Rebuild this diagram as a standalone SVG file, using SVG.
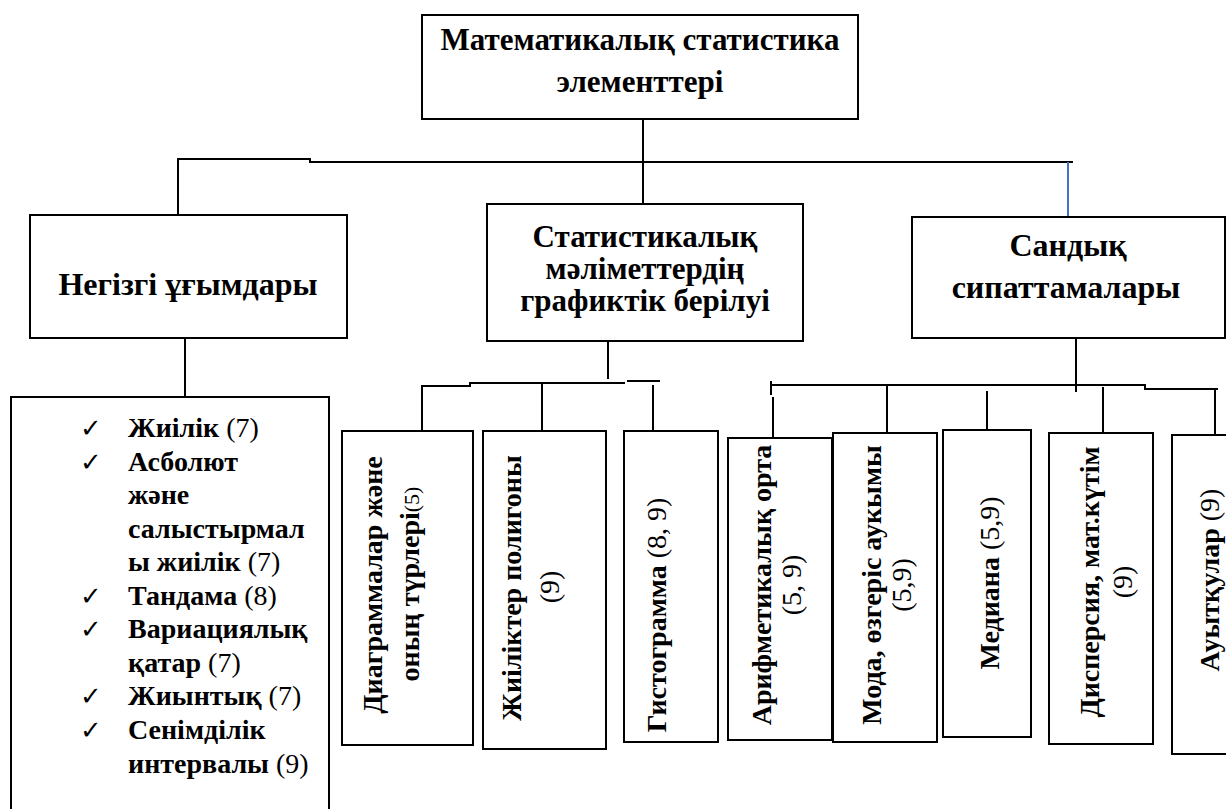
<svg xmlns="http://www.w3.org/2000/svg" width="1226" height="809" viewBox="0 0 1226 809">
<style>
.box{fill:#fff;stroke:#000;stroke-width:2}
.ln{fill:none;stroke:#000;stroke-width:2}
.blue{fill:none;stroke:#4472c4;stroke-width:2}
.t{font-family:"Liberation Serif","Times New Roman",serif;font-weight:bold;fill:#000}
.title{font-size:31px;text-anchor:middle}
.hd{font-size:32px;text-anchor:middle}
.hm{font-size:31px;text-anchor:middle}
.li{font-size:28px}
.ck{font-family:"DejaVu Sans",sans-serif;font-size:26px;fill:#000}
.vt{font-size:28px;text-anchor:middle}
.n{font-weight:normal}
</style>
<rect width="1226" height="809" fill="#fff"/>
<g id="connectors">
<polyline class="ln" points="178,215 178,159 310,159 310,162 1073,162"/>
<line class="ln" x1="643" y1="119" x2="643" y2="204"/>
<line class="blue" x1="1068" y1="162" x2="1068" y2="217"/>
<line class="ln" x1="185" y1="338" x2="185" y2="397"/>
<line class="ln" x1="608" y1="341" x2="608" y2="379"/>
<polyline class="ln" points="422,431 422,386 470,386 470,383 625,383"/>
<line class="ln" x1="627" y1="381" x2="660" y2="381"/>
<line class="ln" x1="542" y1="383" x2="542" y2="431"/>
<line class="ln" x1="653" y1="385" x2="653" y2="431"/>
<line class="ln" x1="1076" y1="338" x2="1076" y2="392"/>
<polyline class="ln" points="770,385 1145,385 1145,389 1218,389"/>
<line class="ln" x1="771" y1="381" x2="771" y2="395"/>
<line class="ln" x1="773" y1="397" x2="773" y2="438"/>
<line class="ln" x1="887" y1="385" x2="887" y2="434"/>
<line class="ln" x1="987" y1="391" x2="987" y2="434"/>
<line class="ln" x1="1103" y1="387" x2="1103" y2="434"/>
<line class="ln" x1="1215" y1="389" x2="1215" y2="435"/>
</g>
<g id="root">
<rect class="box" x="422" y="15" width="436" height="104"/>
<text class="t title" x="640" y="50">Математикалық статистика</text>
<text class="t title" x="640" y="92">элементтері</text>
</g>
<g id="n-negizgi">
<rect class="box" x="30" y="215" width="317" height="123"/>
<text class="t hd" x="188" y="295">Негізгі ұғымдары</text>
</g>
<g id="n-graph">
<rect class="box" x="487" y="204" width="316" height="137"/>
<text class="t hm" x="645" y="247">Статистикалық</text>
<text class="t hm" x="645" y="279">мәліметтердің</text>
<text class="t hm" x="645" y="311">графиктік берілуі</text>
</g>
<g id="n-sandyk">
<rect class="box" x="912" y="217" width="313" height="121"/>
<text class="t hd" x="1068" y="256">Сандық</text>
<text class="t hd" x="1066" y="298">сипаттамалары</text>
</g>
<g id="n-list">
<rect class="box" x="11" y="397" width="318" height="420"/>
<text class="ck" x="80" y="437">✓</text>
<text class="ck" x="80" y="471">✓</text>
<text class="ck" x="80" y="605">✓</text>
<text class="ck" x="80" y="638">✓</text>
<text class="ck" x="80" y="705">✓</text>
<text class="ck" x="80" y="739">✓</text>
<text class="t li" x="128" y="437">Жиілік <tspan class="n">(7)</tspan></text>
<text class="t li" x="128" y="471">Асболют</text>
<text class="t li" x="128" y="504">және</text>
<text class="t li" x="128" y="538">салыстырмал</text>
<text class="t li" x="128" y="571">ы жиілік <tspan class="n">(7)</tspan></text>
<text class="t li" x="128" y="605">Тандама <tspan class="n">(8)</tspan></text>
<text class="t li" x="128" y="638">Вариациялық</text>
<text class="t li" x="128" y="672">қатар <tspan class="n">(7)</tspan></text>
<text class="t li" x="128" y="705">Жиынтық <tspan class="n">(7)</tspan></text>
<text class="t li" x="128" y="739">Сенімділік</text>
<text class="t li" x="128" y="773">интервалы <tspan class="n">(9)</tspan></text>
</g>
<g id="n-diagram">
<rect class="box" x="342" y="431" width="131" height="314"/>
<text class="t vt" transform="translate(373,585) rotate(-90)" y="9">Диаграммалар және</text>
<text class="t vt" transform="translate(410,584) rotate(-90)" y="9">оның  түрлері<tspan class="n" font-size="22">(5)</tspan></text>
</g>
<g id="n-polygon">
<rect class="box" x="483" y="431" width="123" height="318"/>
<text class="t vt" transform="translate(512,588) rotate(-90)" y="9">Жиіліктер полигоны</text>
<text class="t vt n" transform="translate(550,587) rotate(-90)" y="9">(9)</text>
</g>
<g id="n-histogram">
<rect class="box" x="624" y="431" width="94" height="311"/>
<text class="t vt" transform="translate(657,615) rotate(-90)" y="9">Гистограмма <tspan class="n">(8, 9)</tspan></text>
</g>
<g id="n-mean">
<rect class="box" x="728" y="438" width="104" height="302"/>
<text class="t vt" transform="translate(762,585) rotate(-90)" y="9">Арифметикалық орта</text>
<text class="t vt n" transform="translate(792,585) rotate(-90)" y="9">(5, 9)</text>
</g>
<g id="n-mode">
<rect class="box" x="833" y="433" width="104" height="309"/>
<text class="t vt" transform="translate(872,585) rotate(-90)" y="9">Мода, өзгеріс аукымы</text>
<text class="t vt n" transform="translate(902,585) rotate(-90)" y="9">(5,9)</text>
</g>
<g id="n-median">
<rect class="box" x="943" y="430" width="88" height="307"/>
<text class="t vt" transform="translate(990,583) rotate(-90)" y="9">Медиана <tspan class="n">(5,9)</tspan></text>
</g>
<g id="n-dispersion">
<rect class="box" x="1049" y="433" width="104" height="311"/>
<text class="t vt" transform="translate(1090,582) rotate(-90)" y="9">Дисперсия, мат.күтім</text>
<text class="t vt n" transform="translate(1123,582) rotate(-90)" y="9">(9)</text>
</g>
<g id="n-deviation">
<rect class="box" x="1172" y="435" width="60" height="319"/>
<text class="t vt" transform="translate(1210,580) rotate(-90)" y="9">Ауытқулар <tspan class="n">(9)</tspan></text>
</g>
</svg>
